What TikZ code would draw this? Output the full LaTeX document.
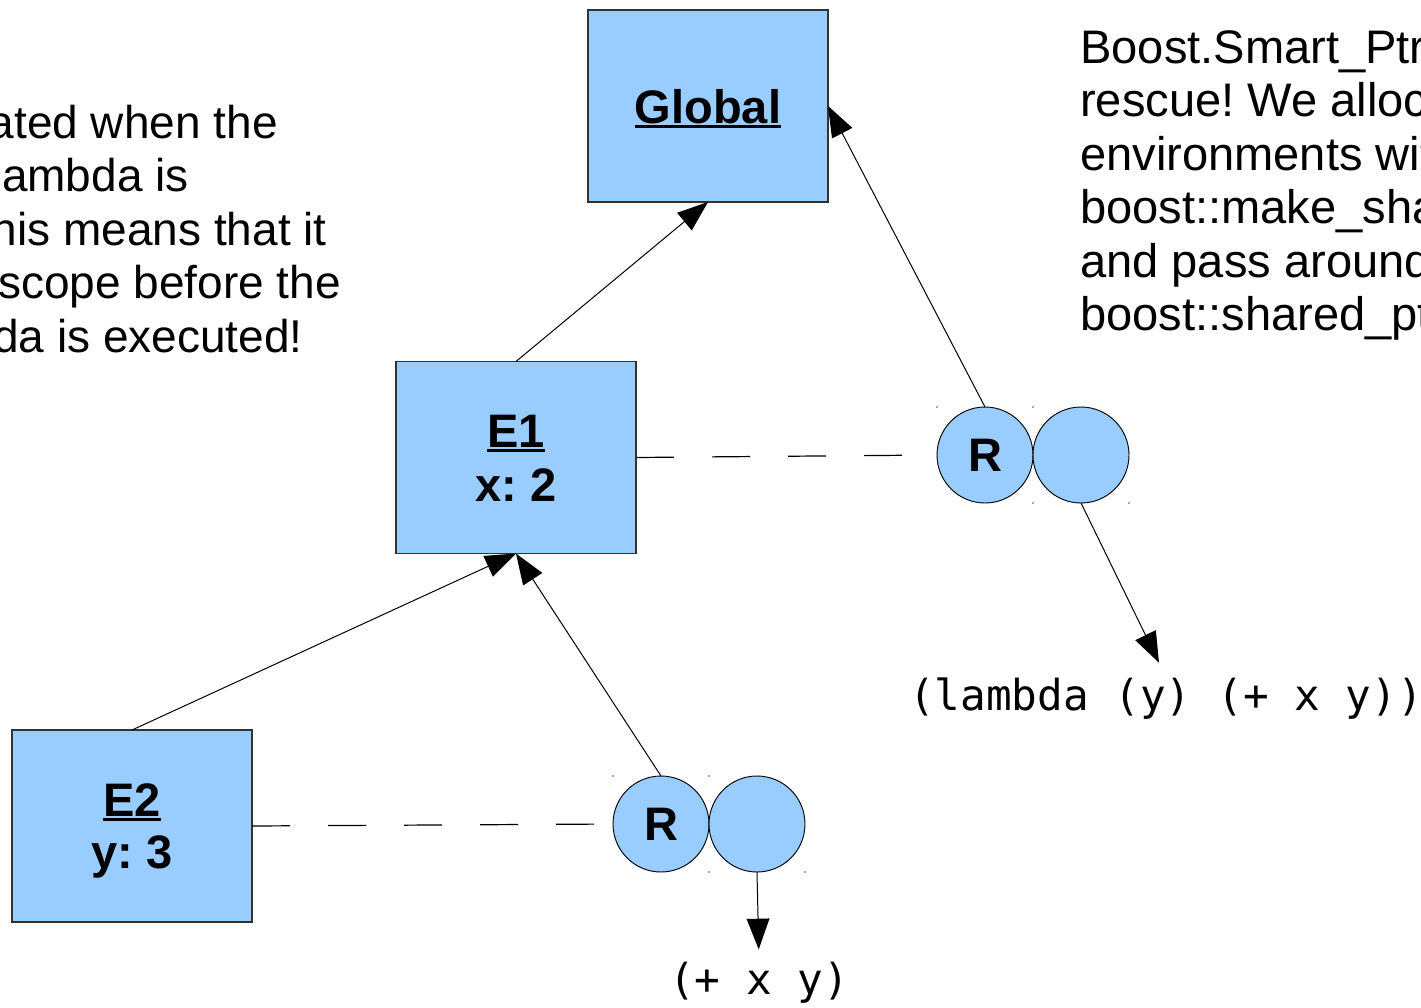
\documentclass[tikz,border=0pt]{standalone}
\usepackage{fontspec}
\setmainfont{Liberation Sans}
\newfontfamily\codefont{DejaVu Sans Mono}
\usetikzlibrary{arrows.meta}
\frenchspacing

\definecolor{envblue}{RGB}{153,204,255}

% bold name with a heavy underline just below the baseline
\newcommand\ulinetext[1]{\sbox0{#1}\rlap{\rule[-3.75pt]{\wd0}{1.9pt}}\usebox0}

\begin{document}
\begin{tikzpicture}[x=0.75pt,y=-0.75pt,
  envbox/.style={draw=black!80, fill=envblue, line width=0.9pt,
    minimum width=180pt, minimum height=144pt, inner sep=0pt, outer sep=0pt},
  cell/.style={circle, draw=black, fill=envblue, line width=0.7pt,
    minimum size=72pt, inner sep=0pt, outer sep=0pt,
    font=\bfseries\fontsize{35.25pt}{40pt}\selectfont},
  boxlabel/.style={anchor=base, inner sep=0pt,
    font=\bfseries\fontsize{35.25pt}{40pt}\selectfont},
  note/.style={inner sep=0pt, font=\fontsize{34.5pt}{40pt}\selectfont},
  wide note/.style={note, font=\fontsize{35.3pt}{40pt}\selectfont},
  code/.style={anchor=base, inner sep=0pt,
    font=\codefont\fontsize{32pt}{36pt}\selectfont},
  link/.style={-{Triangle[length=23pt,width=17pt]}, line width=0.75pt},
  envptr/.style={line width=0.9pt, dash pattern=on 28.5pt off 28.5pt},
  handle/.style={fill=black!70}
]
\useasboundingbox (0,0) rectangle (1421,1007);

% environments
\node[envbox] (global) at (708,106) {};
\node[envbox] (e1) at (516,457.5) {};
\node[envbox] (e2) at (132,826) {};

\node[boxlabel] (globalname) at (708,123) {\ulinetext{Global}};
\node[boxlabel] (e1name) at (516,447) {\ulinetext{E1}};
\node[boxlabel] (e1val) at (516,501) {x: 2};
\node[boxlabel] (e2name) at (132,816) {\ulinetext{E2}};
\node[boxlabel] (e2val) at (132,868) {y: 3};

% closures: environment pointer + code pointer
\node[cell] (r1) at (985,455) {R};
\node[cell] (c1) at (1081,455) {};
\node[cell] (r2) at (661,824) {R};
\node[cell] (c2) at (757,824) {};

% selection handles around the closure cells
\foreach \hx/\hy in {937/407,1033/407,1033/503,1129/503,613/776,709/776,709/872,805/872}
  \fill[handle] (\hx,\hy) circle (0.6pt);

% code
\node[code] (lam) at (1166,710) {(lambda (y) (+ x y))};
\node[code] (body) at (759,994) {(+ x y)};

% parent links
\draw[link] (e1.north) -- (global.south);
\draw[link] (e2.north) -- (e1.south);

% closure links
\draw[link] (r1.north) -- (global.east);
\draw[link] (r2.north) -- (e1.south);
\draw[envptr] (e1.east) -- (r1.west);
\draw[envptr] (e2.east) -- (r2.west);
\draw[link, shorten >=12pt] (c1.south) -- (lam.north);
\draw[link, shorten >=9pt] (c2.south) -- (body.north);

% explanatory notes
\foreach \txt/\ex/\by [count=\i] in {
    {ated when the}/278/138,
    {ambda is}/189/191.5,
    {This means that it}/327/245,
    {scope before the}/341/298.5,
    {da is executed!}/303/352}
  \node[note, anchor=base east] (leftnote\i) at (\ex,\by) {\txt};

\foreach \txt/\by [count=\i] in {
    {Boost.Smart\_Ptr to the}/63,
    {rescue! We allocate}/116.5,
    {environments with}/170,
    {boost::make\_shared}/223.5,
    {and pass around}/277,
    {boost::shared\_ptr}/330.5}
  \node[wide note, anchor=base west] (rightnote\i) at (1080,\by) {\txt};

\end{tikzpicture}
\end{document}
